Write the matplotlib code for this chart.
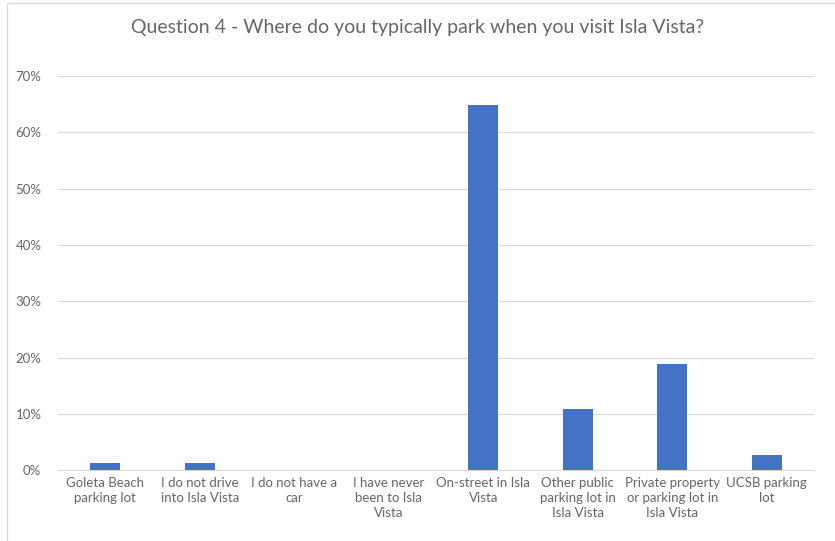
import matplotlib.pyplot as plt
from matplotlib.patches import Rectangle
from matplotlib.ticker import PercentFormatter

categories = [
    "Goleta Beach\nparking lot",
    "I do not drive\ninto Isla Vista",
    "I do not have a\ncar",
    "I have never\nbeen to Isla\nVista",
    "On-street in Isla\nVista",
    "Other public\nparking lot in\nIsla Vista",
    "Private property\nor parking lot in\nIsla Vista",
    "UCSB parking\nlot",
]
shares = [1.35, 1.35, 0.0, 0.0, 64.9, 10.8, 18.9, 2.7]
y_ticks = [0, 10, 20, 30, 40, 50, 60, 70]

plt.rcParams["font.family"] = ["Lato", "DejaVu Sans"]
grey = "#666666"

fig = plt.figure(figsize=(8.35, 5.41), dpi=100)
ax = fig.add_axes([0.0695, 0.131, 0.9055, 0.7285])

x = range(len(categories))
ax.bar(x, shares, width=0.32, color="#4472c4", zorder=3)

ax.set_xlim(-0.5, len(categories) - 0.5)
ax.set_ylim(0, 70)
ax.set_yticks(y_ticks)
ax.yaxis.set_major_formatter(PercentFormatter(decimals=0))
ax.set_xticks(list(x))
ax.set_xticklabels(categories, fontsize=9.5, color=grey, linespacing=1.3)
ax.tick_params(axis="y", labelsize=9.5, labelcolor=grey, length=0, pad=12)
ax.tick_params(axis="x", length=0, pad=5)
ax.grid(axis="y", color="#d9d9d9", linewidth=0.8, zorder=0)
for s in ["top", "right", "left"]:
    ax.spines[s].set_visible(False)
ax.spines["bottom"].set_color("#d9d9d9")

fig.text(0.5, 0.95, "Question 4 - Where do you typically park when you visit Isla Vista?",
         ha="center", va="center", fontsize=14, color=grey)

fig.patches.append(Rectangle((0.0085, -0.01), 1.2, 1.005, transform=fig.transFigure,
                             fill=False, edgecolor="#d9d9d9", linewidth=1))

fig.savefig("out.png", dpi=100)
